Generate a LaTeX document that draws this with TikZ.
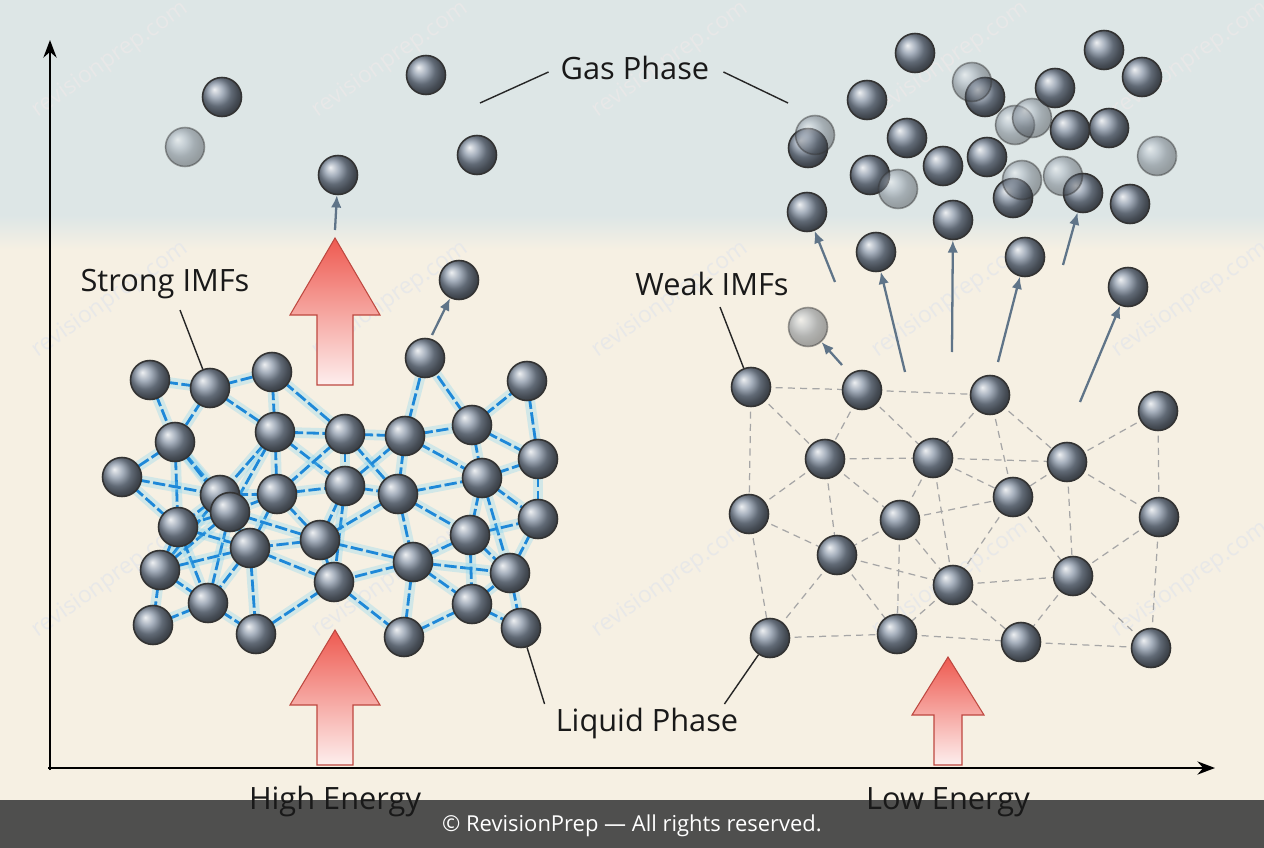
\documentclass[tikz,border=0pt]{standalone}
\usepackage{fontspec}
\setmainfont{Open Sans}
\usetikzlibrary{arrows.meta}
\definecolor{skyband}{HTML}{DDE6E6}
\definecolor{cream}{HTML}{F6F0E3}
\definecolor{slate}{HTML}{5F7488}
\definecolor{ballcol}{HTML}{8A97A8}
\definecolor{bondblue}{HTML}{1E88D8}
\definecolor{heat}{HTML}{EE5A50}
\tikzset{
  mol/.style={circle,draw=black!80,line width=0.9pt,minimum size=0.78cm,inner sep=0pt,ball color=ballcol},
  faintmol/.style={mol,opacity=0.45},
  lbl/.style={font=\fontsize{17.5}{21}\selectfont,text=black!90},
  lead/.style={draw=black!85,line width=0.8pt},
  rise/.style={-{Latex[length=7pt,width=6pt]},draw=slate,line width=1.3pt},
}
\def\leftmols{150/380,210/388,272/372,175/442,275/432,345/434,405/436,472/425,527/381,425/358,122/477,220/495,277/494,345/486,398/494,482/478,538/459,230/512,178/527,320/540,413/562,470/535,538/519,250/548,160/570,208/603,334/582,472/604,510/573,153/625,256/634,404/637,521/628}
\def\rightmols{751/387,862/390,990/395,1158/411,825/459,933/458,1067/462,749/514,900/520,1013/497,1159/517,837/555,953/585,1073/576,770/638,897/634,1021/642,1151/648}
\begin{document}
\begin{tikzpicture}[x=0.02cm,y=-0.02cm]
  % background
  \fill[cream] (0,0) rectangle (1264,848);
  \fill[skyband] (0,0) rectangle (1264,230);
  \shade[top color=skyband,bottom color=cream] (0,215) rectangle (1264,250);
  \useasboundingbox (0,0) rectangle (1264,848);
  % watermarks
  \foreach \wx in {110,390,670,950,1190}{
    \foreach \wy in {60,300,580}{
      \node[rotate=35,text=black!9,font=\fontsize{13}{15}\selectfont] at (\wx,\wy) {revisionprep.com};}}
  % axes
  \draw[-{Stealth[length=10pt]},line width=1.3pt] (50,770) -- (50,40);
  \draw[-{Stealth[length=10pt]},line width=1.3pt] (48,768) -- (1215,768);
  % heat arrows
  \shade[top color=heat,bottom color=heat!10,draw=heat!80!black,line width=0.6pt]
    (317,385) -- (317,315) -- (290,315) -- (335,238) -- (380,315) -- (353,315) -- (353,385) -- cycle;
  \shade[top color=heat,bottom color=heat!10,draw=heat!80!black,line width=0.6pt]
    (317,765) -- (317,705) -- (290,705) -- (335,630) -- (380,705) -- (353,705) -- (353,765) -- cycle;
  \shade[top color=heat,bottom color=heat!10,draw=heat!80!black,line width=0.6pt]
    (934,765) -- (934,715) -- (912,715) -- (948,657) -- (984,715) -- (962,715) -- (962,765) -- cycle;
  % strong bonds
  \foreach \a/\b [count=\i] in \leftmols {
    \foreach \c/\d [count=\j] in \leftmols {
      \ifnum\j>\i
        \pgfmathsetmacro\dist{veclen(\c-\a,\d-\b)}
        \ifdim\dist pt<100pt
          \draw[cyan!60,line width=6pt,opacity=0.25] (\a,\b) -- (\c,\d);
          \draw[bondblue,line width=1.6pt,dash pattern=on 7pt off 2pt] (\a,\b) -- (\c,\d);
        \fi
      \fi}}
  % weak bonds
  \foreach \a/\b [count=\i] in \rightmols {
    \foreach \c/\d [count=\j] in \rightmols {
      \ifnum\j>\i
        \pgfmathsetmacro\dist{veclen(\c-\a,\d-\b)}
        \ifdim\dist pt<135pt
          \draw[black!35,line width=0.7pt,dash pattern=on 4pt off 3pt] (\a,\b) -- (\c,\d);
        \fi
      \fi}}
  % liquid molecules
  \foreach \a/\b [count=\i] in \leftmols {\node[mol] (l\i) at (\a,\b) {};}
  \foreach \a/\b [count=\i] in \rightmols {\node[mol] (r\i) at (\a,\b) {};}
  % gas molecules
  \foreach \a/\b [count=\i] in {222/97,426/75,338/175,477/155,459/280,915/53,985/97,867/100,1055/88,1104/50,1142/77,808/148,907/138,943/166,987/157,1070/130,1109/128,870/175,1013/198,1083/193,1130/204,807/212,953/220,876/252,1025/257,1128/287}
    {\node[mol] (g\i) at (\a,\b) {};}
  \foreach \a/\b [count=\i] in {185/147,972/82,815/135,1015/125,1032/118,1157/156,898/189,1022/180,1063/176,808/327}
    {\node[faintmol] (f\i) at (\a,\b) {};}
  % escaping molecules
  \coordinate (e1) at (335,230); \coordinate (e2) at (432,335);
  \coordinate (e3) at (835,282); \coordinate (e4) at (842,365);
  \coordinate (e5) at (905,372); \coordinate (e6) at (952,352);
  \coordinate (e7) at (998,362); \coordinate (e8) at (1063,265);
  \coordinate (e9) at (1080,402);
  \draw[rise] (e1) -- (g3);
  \draw[rise] (e2) -- (g5);
  \draw[rise] (e3) -- (g22);
  \draw[rise] (e4) -- (f10);
  \draw[rise] (e5) -- (g24);
  \draw[rise] (e6) -- (g23);
  \draw[rise] (e7) -- (g25);
  \draw[rise] (e8) -- (g20);
  \draw[rise] (e9) -- (g26);
  % footer
  \fill[black!72,opacity=0.95] (0,800) rectangle (1264,848);
  \node[text=white,font=\fontsize{12.5}{15}\selectfont] (foot) at (632,826) {© RevisionPrep — All rights reserved.};
  % labels
  \node[lbl] (gas) at (635,68) {Gas Phase};
  \node[lbl] (strong) at (165,284) {Strong IMFs};
  \node[lbl] (weak) at (712,284) {Weak IMFs};
  \node[lbl] (liquid) at (647,724) {Liquid Phase};
  \node[lbl] (high) at (335,802) {High Energy};
  \node[lbl] (low) at (948,802) {Low Energy};
  \draw[lead] (gas.west) ++(-6,4) -- (480,103);
  \draw[lead] (gas.east) ++(8,4) -- (788,103);
  \draw[lead] (strong.south) ++(15,5) -- (l2);
  \draw[lead] (weak.south) ++(8,5) -- (r1);
  \draw[lead] (liquid.west) ++(-5,-20) -- (l33);
  \draw[lead] (liquid.east) ++(-20,-20) -- (r15);
\end{tikzpicture}
\end{document}
